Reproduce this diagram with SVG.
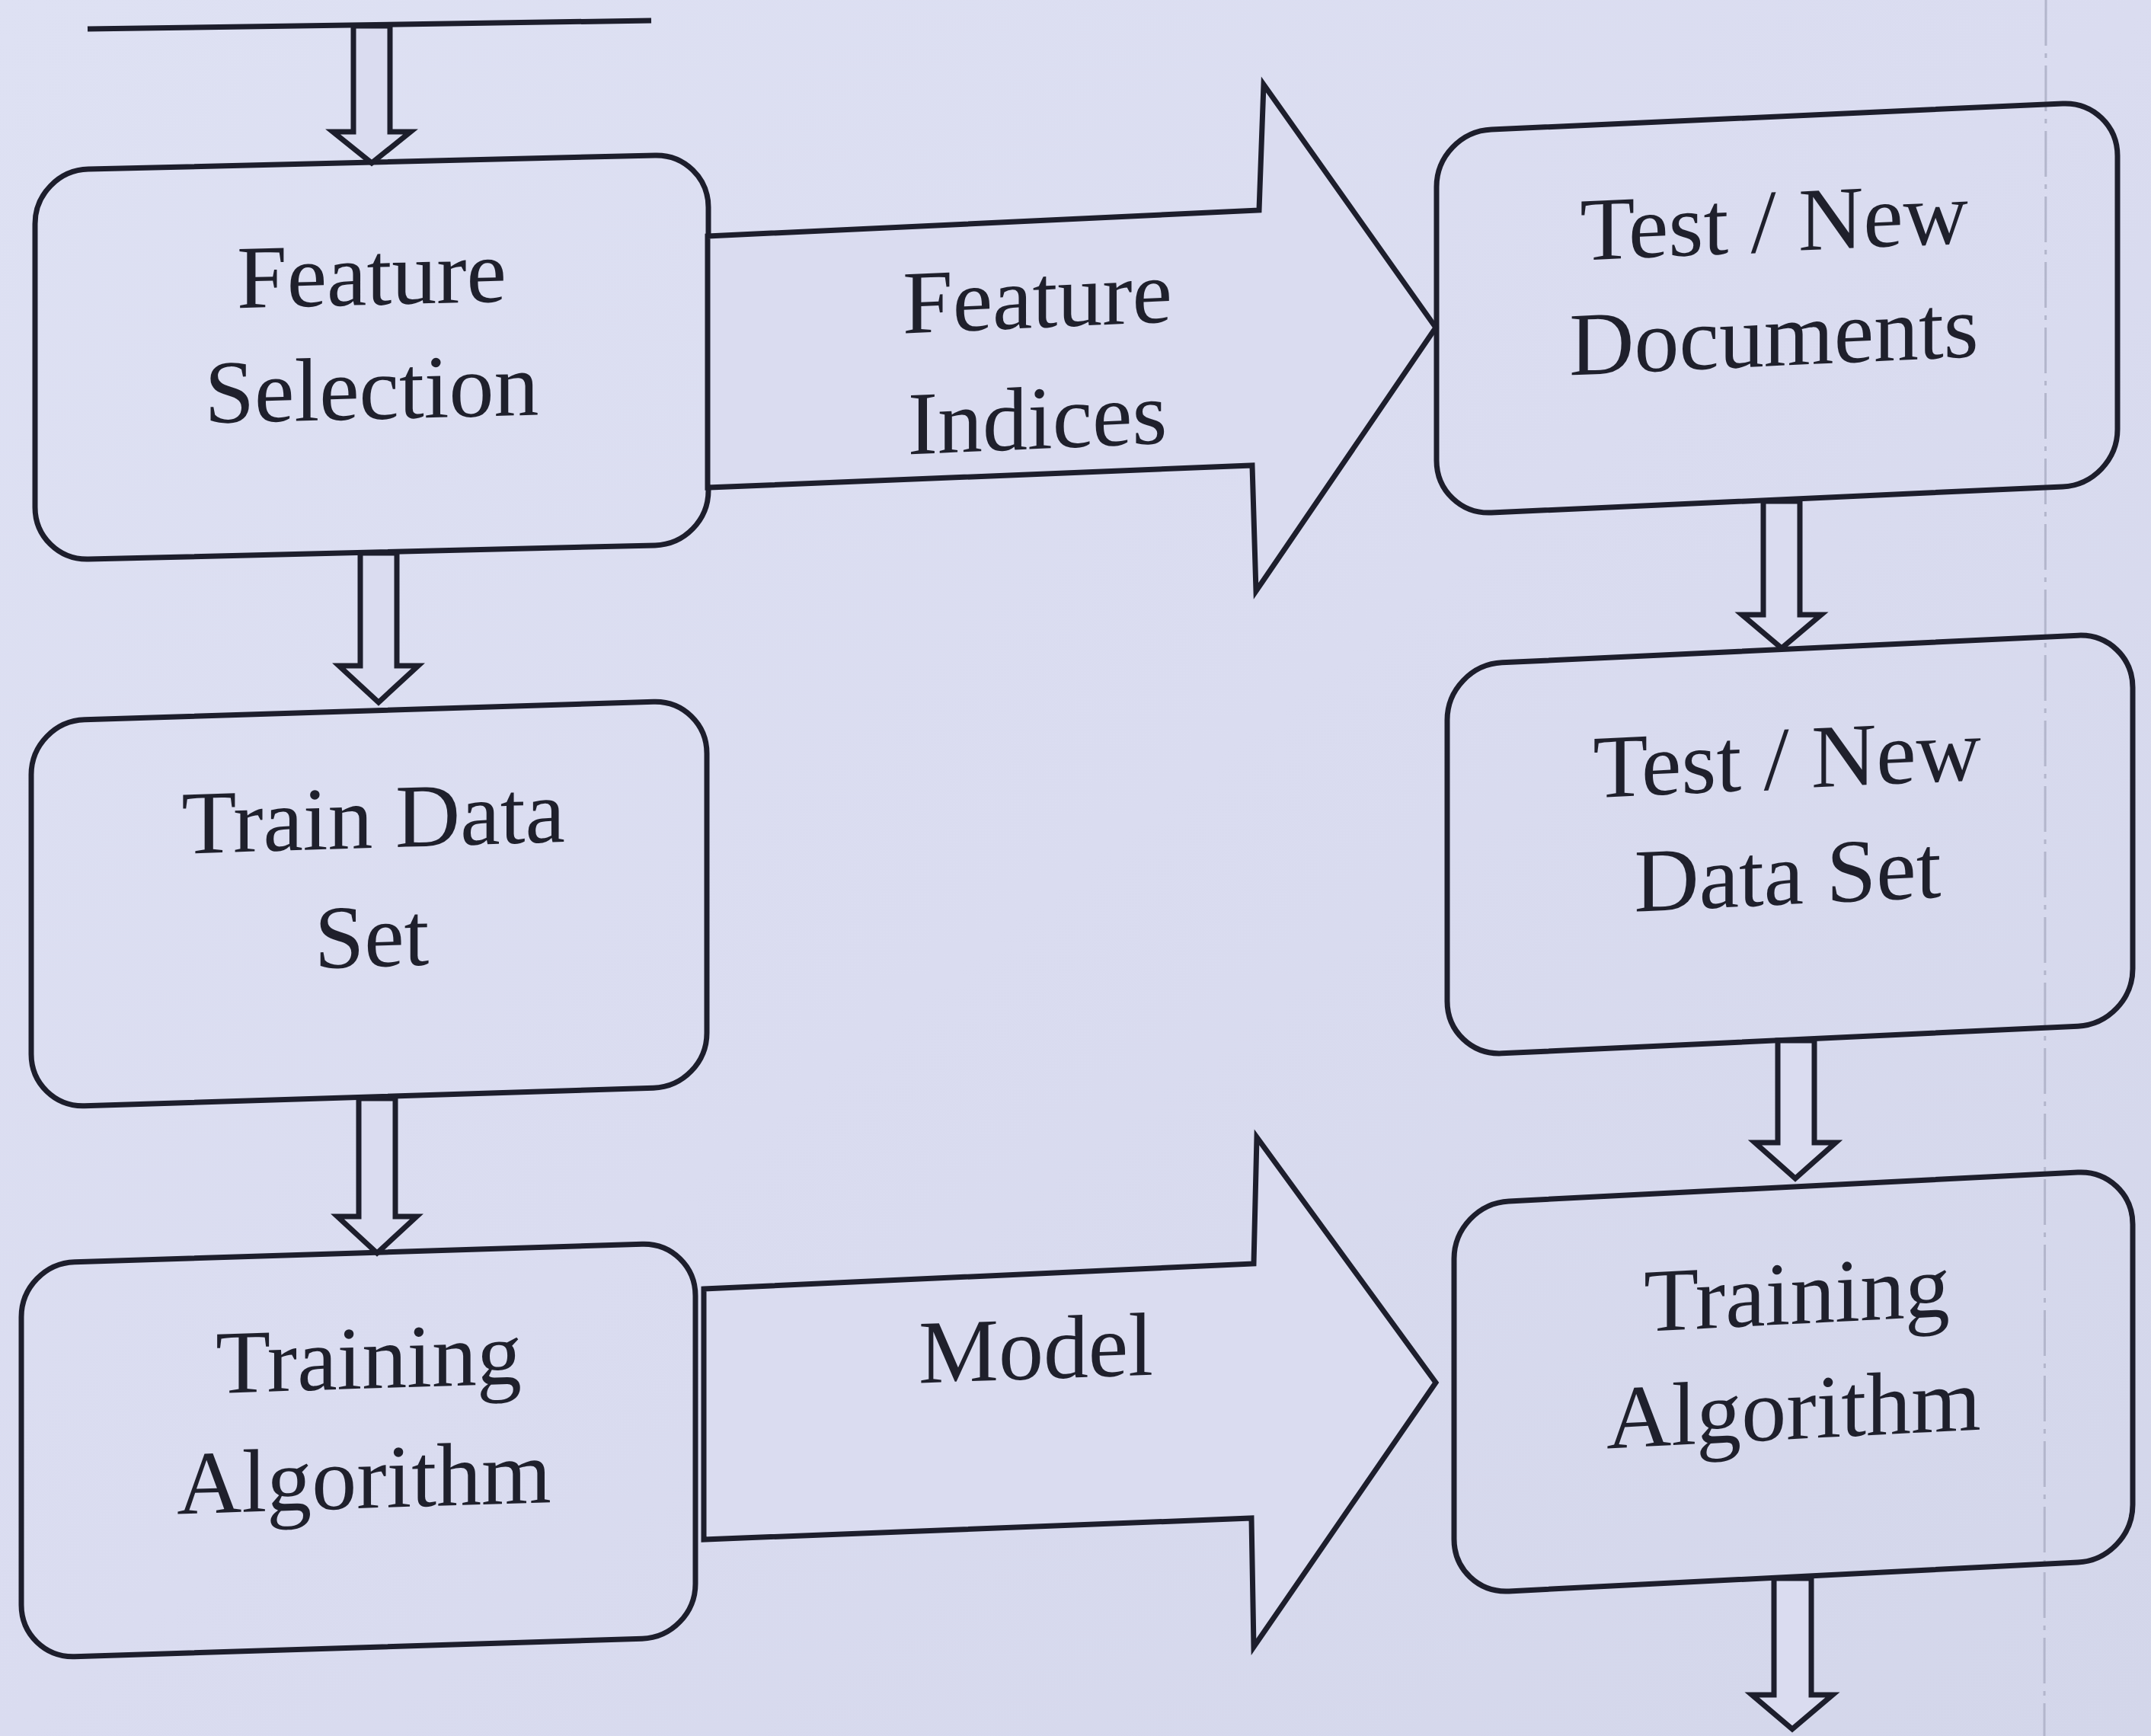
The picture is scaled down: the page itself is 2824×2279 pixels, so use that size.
<svg xmlns="http://www.w3.org/2000/svg" width="2824" height="2279" viewBox="0 0 2824 2279">
  <defs>
    <linearGradient id="paper" x1="0" y1="0" x2="1" y2="1">
      <stop offset="0" stop-color="#dee1f3"/>
      <stop offset="0.5" stop-color="#dadcf0"/>
      <stop offset="1" stop-color="#d3d6ea"/>
    </linearGradient>
    <style>
      .box { fill: none; stroke: #1d1e2c; stroke-width: 7; }
      .flow { fill: #dadcf0; stroke: #1d1e2c; stroke-width: 7; stroke-linejoin: miter; }
      .rule { fill: none; stroke: #1d1e2c; stroke-width: 7; }
      .fold { fill: none; stroke: #b3b6cc; stroke-width: 3; stroke-dasharray: 60 10 6 10; }
      .lbl { font-family: "Liberation Serif", "Times New Roman", serif; font-size: 118px; fill: #1f202c; text-anchor: middle; }
    </style>
  </defs>

  <!-- paper -->
  <rect x="0" y="0" width="2824" height="2279" fill="url(#paper)"/>
  <line class="fold" x1="2686" y1="0" x2="2684" y2="2279"/>

  <!-- rule at the top of the flow -->
  <line class="rule" x1="115" y1="38" x2="855" y2="27"/>

  <!-- nodes -->
  <g id="feature-selection" transform="translate(488 469) skewY(-1.4)">
    <rect class="box" x="-442" y="-256" width="884" height="512" rx="70"/>
    <text class="lbl" x="0" y="-69">Feature</text>
    <text class="lbl" x="0" y="81">Selection</text>
  </g>

  <g id="train-data-set" transform="translate(484 1186) skewY(-1.8)">
    <rect class="box" x="-443" y="-253" width="887" height="507" rx="70"/>
    <text class="lbl" x="6" y="-73">Train Data</text>
    <text class="lbl" x="4" y="83">Set</text>
  </g>

  <g id="training-algorithm-left" transform="translate(470 1904) skewY(-1.8)">
    <rect class="box" x="-442" y="-259" width="885" height="518" rx="70"/>
    <text class="lbl" x="14" y="-81">Training</text>
    <text class="lbl" x="8" y="76">Algorithm</text>
  </g>

  <g id="test-new-documents" transform="translate(2333 405) skewY(-2.6)">
    <rect class="box" x="-447" y="-252" width="894" height="503" rx="72"/>
    <text class="lbl" x="-4" y="-75">Test / New</text>
    <text class="lbl" x="-4" y="75">Documents</text>
  </g>

  <g id="test-new-data-set" transform="translate(2350 1108) skewY(-2.7)">
    <rect class="box" x="-450" y="-256" width="900" height="513" rx="72"/>
    <text class="lbl" x="-4" y="-73">Test / New</text>
    <text class="lbl" x="-3" y="79">Data Set</text>
  </g>

  <g id="training-algorithm-right" transform="translate(2354 1814) skewY(-2.9)">
    <rect class="box" x="-445" y="-256" width="891" height="512" rx="72"/>
    <text class="lbl" x="5" y="-76">Training</text>
    <text class="lbl" x="1" y="75">Algorithm</text>
  </g>

  <!-- connectors -->
  <g id="connectors">
    <!-- block arrows pointing down -->
    <polygon class="flow" points="464,34 464,173 437,173 488,214 539,173 512,173 512,34"/>
    <polygon class="flow" points="473,726 473,874 445,874 497,922 549,874 521,874 521,726"/>
    <polygon class="flow" points="471,1442 471,1597 443,1597 495,1645 547,1597 519,1597 519,1442"/>
    <polygon class="flow" points="2315,658 2315,807 2287,807 2339,851 2391,807 2363,807 2363,658"/>
    <polygon class="flow" points="2334,1366 2334,1500 2304,1500 2357,1547 2410,1500 2382,1500 2382,1366"/>
    <polygon class="flow" points="2329,2072 2329,2225 2300,2225 2353,2270 2406,2225 2378,2225 2378,2072"/>

    <!-- wide arrows between the columns -->
    <g id="edge-feature-indices">
      <polygon class="flow" points="929,310 1653,276 1659,111 1885,430 1649,776 1644,611 929,640"/>
      <g transform="translate(1362 510) skewY(-2.5)">
        <text class="lbl" x="0" y="-80">Feature</text>
        <text class="lbl" x="0" y="79">Indices</text>
      </g>
    </g>
    <g id="edge-model">
      <polygon class="flow" points="924,1692 1646,1659 1650,1493 1885,1815 1646,2162 1643,1993 924,2021"/>
      <g transform="translate(1360 1810) skewY(-2)">
        <text class="lbl" x="0" y="0">Model</text>
      </g>
    </g>
  </g>
</svg>
